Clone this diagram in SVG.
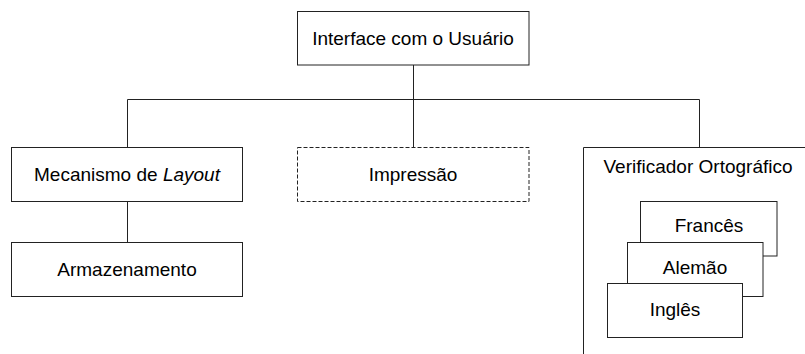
<svg xmlns="http://www.w3.org/2000/svg" width="805" height="354" viewBox="0 0 805 354">
<style>
.box{fill:#fff;stroke:#222;stroke-width:1}
.dash{fill:#fff;stroke:#222;stroke-width:1;stroke-dasharray:4 2}
.ln{fill:none;stroke:#222;stroke-width:1}
text{font-family:"Liberation Sans",Arial,sans-serif;font-size:19px;fill:#000;text-anchor:middle}
</style>
<rect width="805" height="354" fill="#fff"/>
<g id="connectors">
<path class="ln" d="M413.5,65 V99.5 M127.5,99.5 H699.5 M127.5,99.5 V147.5 M413.5,99.5 V147.5 M699.5,99.5 V147.5 M127.5,201.5 V242.5"/>
</g>
<g id="interface">
<rect class="box" x="297.5" y="11.5" width="231.5" height="53.5"/>
<text x="413" y="44.5">Interface com o Usuário</text>
</g>
<g id="mecanismo">
<rect class="box" x="11.5" y="147.5" width="231" height="54"/>
<text x="127" y="181">Mecanismo de <tspan font-style="italic">Layout</tspan></text>
</g>
<g id="impressao">
<rect class="dash" x="297.5" y="147.5" width="231.5" height="54"/>
<text x="413" y="180.5">Impressão</text>
</g>
<g id="armazenamento">
<rect class="box" x="11.5" y="242.5" width="231" height="54"/>
<text x="127" y="275.5">Armazenamento</text>
</g>
<g id="verificador">
<path class="ln" d="M583.5,354 V147.5 H805"/>
<text x="698" y="173">Verificador Ortográfico</text>
</g>
<g id="frances">
<rect class="box" x="640.5" y="201.5" width="136.5" height="54.5"/>
<text x="709" y="232">Francês</text>
</g>
<g id="alemao">
<rect class="box" x="627.5" y="242.5" width="135.5" height="54"/>
<text x="695" y="274">Alemão</text>
</g>
<g id="ingles">
<rect class="box" x="607.5" y="283.5" width="135" height="54"/>
<text x="675" y="315.5">Inglês</text>
</g>
</svg>
